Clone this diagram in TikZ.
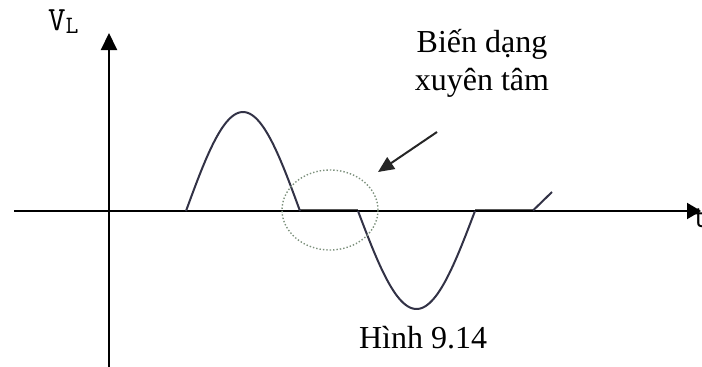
\documentclass[tikz,border=0pt]{standalone}
\usepackage{fontspec}
\setmainfont{Liberation Serif}
\usetikzlibrary{arrows.meta,shapes.geometric}
\definecolor{wavecol}{RGB}{50,50,70}
\definecolor{ringcol}{RGB}{125,145,125}
\begin{document}
\begin{tikzpicture}[
  x=1pt, y=-1pt,
  every node/.style={inner sep=0pt, outer sep=0pt},
  axisline/.style={line width=2pt, black},
  vaxis/.style={axisline, -{Triangle[length=17pt, width=16pt]}},
  haxis/.style={axisline, -{Triangle[length=14pt, width=16pt]}},
  waveline/.style={line width=2pt, wavecol, line join=round},
  flatline/.style={line width=3.4pt, black!65},
  ringline/.style={draw=ringcol, dotted, line width=1.4pt, ellipse, minimum width=96pt, minimum height=80pt},
  callout/.style={line width=2pt, black!85, -{Triangle[length=16pt, width=14pt]}},
  labeltext/.style={font=\fontsize{32}{38}\selectfont, align=center},
  axislabel/.style={font=\ttfamily\fontsize{34}{34}\selectfont}
]
\useasboundingbox (0,0) rectangle (702,367);

% Axes
\coordinate (xstart) at (14,211);
\coordinate (xend)   at (701,211);
\coordinate (ystart) at (109,367);
\coordinate (yend)   at (109,33);

% Flat parts of the output (on the axis)
\coordinate (f1a) at (300,210.5);
\coordinate (f1b) at (358,210.5);
\coordinate (f2a) at (475,210.5);
\coordinate (f2b) at (533,210.5);
\draw[flatline] (f1a) -- (f1b);
\draw[flatline] (f2a) -- (f2b);

\draw[haxis] (xstart) -- (xend);
\draw[vaxis] (ystart) -- (yend);

\node[axislabel, anchor=base west] (vl) at (48,30) {V\raisebox{-3pt}{\fontsize{25}{25}\selectfont L}};
\node[axislabel, anchor=base west] (tl) at (692,227) {t};

% Positive and negative half waves
\draw[waveline] plot[domain=0:180, samples=60] ({186+\x/180*114}, {211-99*sin(\x)});
\draw[waveline] plot[domain=0:180, samples=60] ({358+\x/180*117}, {211+98*sin(\x)});

% Start of the next half wave
\coordinate (nxt) at (552,192);
\draw[waveline] (f2b) -- (nxt);

% Crossover region
\node[ringline] (ring) at (330,210) {};

\coordinate (ctail) at (437,132);
\coordinate (chead) at (378,172);
\draw[callout] (ctail) -- (chead);

\node[labeltext, anchor=base] (note) at (482,90) {Biến dạng\\xuyên tâm};
\node[labeltext, anchor=base] (cap) at (423,348) {Hình 9.14};
\end{tikzpicture}
\end{document}
